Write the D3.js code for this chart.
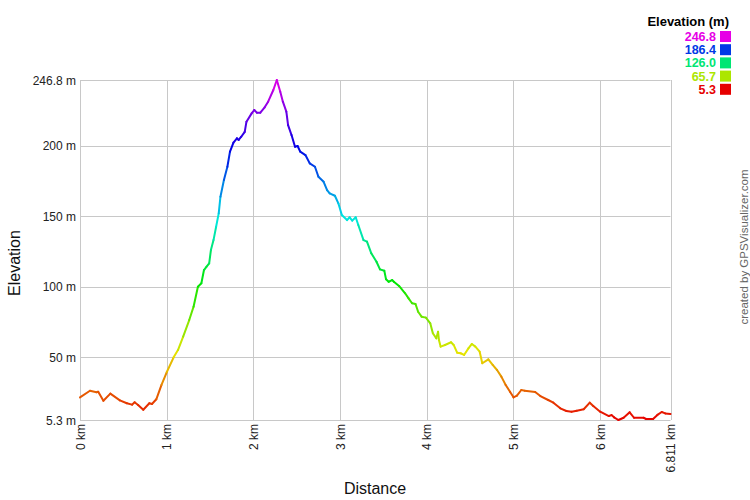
<!DOCTYPE html>
<html><head><meta charset="utf-8">
<script src="https://cdn.jsdelivr.net/npm/d3@7"></script>
<style>body{margin:0;background:#fff;} svg{display:block;font-family:"Liberation Sans",Arial,sans-serif;}</style>
</head><body>
<svg id="c" width="750" height="500"></svg>
<script>
const distances = [0,0.115,0.19,0.21,0.27,0.35,0.46,0.54,0.6,0.63,0.67,0.73,0.8,0.83,0.88,0.94,1.0,1.08,1.13,1.19,1.26,1.31,1.36,1.40,1.43,1.46,1.49,1.51,1.54,1.57,1.60,1.62,1.66,1.70,1.73,1.77,1.81,1.83,1.86,1.90,1.92,1.98,2.01,2.04,2.08,2.13,2.17,2.23,2.27,2.31,2.34,2.38,2.40,2.44,2.48,2.51,2.54,2.60,2.65,2.71,2.75,2.81,2.85,2.88,2.94,2.98,3.02,3.08,3.11,3.14,3.18,3.21,3.27,3.31,3.36,3.42,3.46,3.51,3.53,3.56,3.60,3.62,3.68,3.75,3.79,3.83,3.87,3.90,3.94,3.99,4.04,4.07,4.11,4.13,4.14,4.16,4.21,4.28,4.31,4.35,4.39,4.43,4.48,4.52,4.56,4.61,4.64,4.71,4.76,4.81,4.86,4.91,4.96,5.0,5.04,5.09,5.13,5.25,5.31,5.40,5.46,5.54,5.61,5.67,5.73,5.81,5.88,5.92,6.0,6.10,6.13,6.16,6.21,6.27,6.34,6.39,6.50,6.53,6.61,6.66,6.71,6.75,6.811];
const elevations = [21.4,26.1,25,25.4,19,24,19.2,17.2,16.2,17.9,16,12.6,17.2,16.7,20,30.2,39.2,49.8,55,64.5,76.3,85.8,100,102.4,111.8,114.2,116.6,126,133.1,142.6,152.1,163.9,175.8,185.2,195.9,202.3,205.4,204.2,206.5,210,217.2,223.1,225.5,223.6,223.6,227.4,231.4,239.7,246.8,238.5,231.4,224.3,214.8,207.7,199.4,199.9,195.9,193.5,187.6,185.2,178.1,174.5,168.6,166.3,164.6,159.2,150.9,147.3,149.3,146.9,149.3,143.8,133.1,132,123.7,117.7,112.3,111.3,105.2,103.5,104.7,103.5,100.5,95.3,91.7,88.2,87.7,82.2,78.7,78,74,66.9,63.3,68,62.1,57.4,58.6,60.5,58.6,53.1,52.7,51.5,56.2,59.3,57.4,53.8,45.6,48.4,44.4,40.8,36.1,30.2,25.4,21.4,22.6,26.6,26.1,25.2,22.3,19.5,17.6,13.6,11.7,11.2,11.9,12.9,17.6,15.2,11.2,8.1,8.8,7.2,5.3,6.9,10.8,6.9,6.9,6,6,8.9,11,10,9.6];
const xTicks = [0,1,2,3,4,5,6,6.811];
const xTickLabels = ["0 km","1 km","2 km","3 km","4 km","5 km","6 km","6.811 km"];
const yTicks = [5.3,50,100,150,200,246.8];
const yTickLabels = ["5.3 m","50 m","100 m","150 m","200 m","246.8 m"];
const legendValues = [246.8,186.4,126.0,65.7,5.3];
const legendLabels = ["246.8","186.4","126.0","65.7","5.3"];

const svg = d3.select("#c");
const x = d3.scaleLinear().domain([0,6.811]).range([80,670.5]);
const y = d3.scaleLinear().domain([5.3,246.8]).range([420,80]);
const hue = d3.scaleLinear().domain([5.3,246.8]).range([0,300]);
const col = v => d3.hsl(hue(v),1,0.45).formatHex();

// grid
svg.append("g").selectAll("line").data(xTicks).join("line")
  .attr("x1",d=>Math.round(x(d))+0.5).attr("x2",d=>Math.round(x(d))+0.5)
  .attr("y1",80).attr("y2",420).attr("stroke","#c8c8c8").attr("stroke-width",1);
svg.append("g").selectAll("line").data(yTicks).join("line")
  .attr("y1",d=>Math.round(y(d))+0.5).attr("y2",d=>Math.round(y(d))+0.5)
  .attr("x1",80).attr("x2",670.5).attr("stroke","#c8c8c8").attr("stroke-width",1);

// y labels
svg.append("g").selectAll("text").data(yTicks).join("text")
  .attr("x",76).attr("y",d=>y(d)+4.5).attr("text-anchor","end")
  .attr("font-size",12).attr("fill","#222").text((d,i)=>yTickLabels[i]);
// x labels
svg.append("g").selectAll("text").data(xTicks).join("text")
  .attr("transform",d=>`translate(${x(d)+4.5},424) rotate(-90)`)
  .attr("text-anchor","end").attr("font-size",12).attr("fill","#222")
  .text((d,i)=>xTickLabels[i]);

// axis titles
svg.append("text").attr("transform","translate(20,263) rotate(-90)")
  .attr("text-anchor","middle").attr("font-size",16).attr("fill","#111").text("Elevation");
svg.append("text").attr("x",375).attr("y",494).attr("text-anchor","middle")
  .attr("font-size",16).attr("fill","#111").text("Distance");

// profile line, colored by elevation
const pts = distances.map((d,i)=>[d,elevations[i]]);
const segs = d3.pairs(pts);
svg.append("g").selectAll("line").data(segs).join("line")
  .attr("x1",d=>x(d[0][0])).attr("y1",d=>y(d[0][1]))
  .attr("x2",d=>x(d[1][0])).attr("y2",d=>y(d[1][1]))
  .attr("stroke",d=>col((d[0][1]+d[1][1])/2)).attr("stroke-width",2)
  .attr("stroke-linecap","round");

// legend
svg.append("text").attr("x",729).attr("y",26).attr("text-anchor","end")
  .attr("font-size",13).attr("font-weight","bold").attr("fill","#000").text("Elevation (m)");
const lg = svg.append("g").selectAll("g").data(legendValues).join("g")
  .attr("transform",(d,i)=>`translate(0,${36.5+i*13.2})`);
lg.append("text").attr("x",716).attr("y",4.5).attr("text-anchor","end")
  .attr("font-size",12.5).attr("font-weight","bold").attr("fill",d=>col(d))
  .text((d,i)=>legendLabels[i]);
lg.append("rect").attr("x",720).attr("y",-5.5).attr("width",11).attr("height",11)
  .attr("fill",d=>col(d));

// credit
svg.append("text").attr("transform","translate(748,247) rotate(-90)")
  .attr("text-anchor","middle").attr("font-size",11.5).attr("fill","#666")
  .text("created by GPSVisualizer.com");
</script>
</body></html>
